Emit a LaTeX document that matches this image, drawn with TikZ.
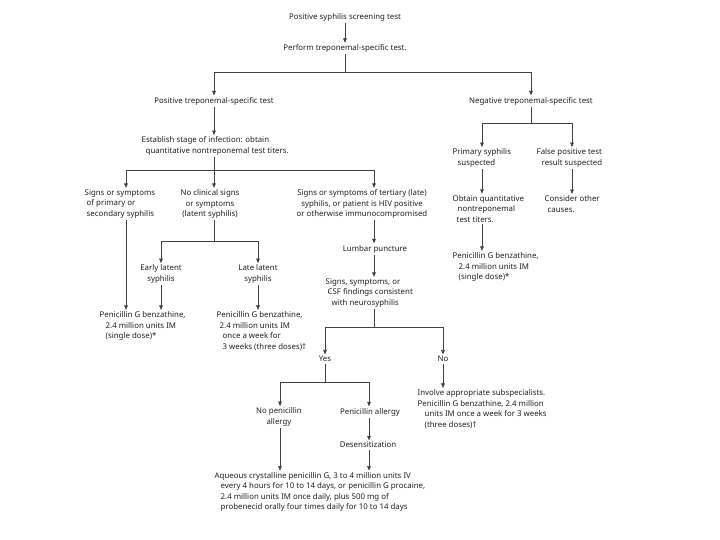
\documentclass[tikz,border=0pt]{standalone}
\usepackage{fontspec}
\setmainfont{Noto Sans}
\usetikzlibrary{arrows.meta}
\begin{document}
\begin{tikzpicture}[x=1pt,y=-1pt,
  txt/.style={inner sep=1.5pt,font=\fontsize{7.85}{10.5}\selectfont,text=black!88},
  ctxt/.style={txt,align=center,anchor=center},
  ltxt/.style={txt,align=left,anchor=west},
  conn/.style={draw=black!75,line width=0.6pt},
  arr/.style={conn,-{Triangle[length=4.5pt,width=3.6pt]}}]
\useasboundingbox (0,0) rectangle (720,540);
% nodes
\node[ctxt] (n1) at (345,17) {Positive syphilis screening test};
\node[ctxt] (n2) at (345,48.5) {Perform treponemal-specific test.};
\node[ctxt] (n3) at (214,101) {Positive treponemal-specific test};
\node[ctxt] (n4) at (531,101) {Negative treponemal-specific test};
\node[ltxt] (n5) at (140,146) {Establish stage of infection: obtain\\\hspace*{4pt}quantitative nontreponemal test titers.};
\node[ltxt] (n6) at (83,204) {Signs or symptoms\\\hspace*{2pt}of primary or\\\hspace*{2pt}secondary syphilis};
\node[ctxt] (n7) at (210,204) {No clinical signs\\or symptoms\\(latent syphilis)};
\node[ctxt] (n8) at (362,204) {Signs or symptoms of tertiary (late)\\syphilis, or patient is HIV positive\\or otherwise immunocompromised};
\node[ltxt] (n9) at (451,158) {Primary syphilis\\\hspace*{5pt}suspected};
\node[ltxt] (n10) at (535,158) {False positive test\\\hspace*{5pt}result suspected};
\node[ltxt] (n11) at (451,209) {Obtain quantitative\\\hspace*{5pt}nontreponemal\\\hspace*{4pt}test titers.};
\node[ltxt] (n12) at (543,204) {Consider other\\\hspace*{3pt}causes.};
\node[ltxt] (n13) at (451,267) {Penicillin G benzathine,\\\hspace*{6pt}2.4 million units IM\\\hspace*{6pt}(single dose)*};
\node[ctxt] (n14) at (375,249) {Lumbar puncture};
\node[ltxt] (n15) at (324,293) {Signs, symptoms, or\\\hspace*{2pt}CSF findings consistent\\\hspace*{6pt}with neurosyphilis};
\node[ltxt] (n16) at (98,326) {Penicillin G benzathine,\\\hspace*{6pt}2.4 million units IM\\\hspace*{6pt}(single dose)*};
\node[ctxt] (n17) at (161,274) {Early latent\\syphilis};
\node[ctxt] (n18) at (258,274) {Late latent\\syphilis};
\node[ltxt] (n19) at (215,331) {Penicillin G benzathine,\\\hspace*{3pt}2.4 million units IM\\\hspace*{6pt}once a week for\\\hspace*{6pt}3 weeks (three doses)\textdagger};
\node[ctxt] (n20) at (325,359) {Yes};
\node[ctxt] (n21) at (443,359) {No};
\node[ctxt] (n22) at (279,417) {No penicillin\\allergy};
\node[ctxt] (n23) at (370,412) {Penicillin allergy};
\node[ctxt] (n24) at (368,445) {Desensitization};
\node[ltxt] (n25) at (416,409) {Involve appropriate subspecialists.\\Penicillin G benzathine, 2.4 million\\\hspace*{7pt}units IM once a week for 3 weeks\\\hspace*{7pt}(three doses)\textdagger};
\node[ltxt] (n26) at (213,492) {Aqueous crystalline penicillin G, 3 to 4 million units IV\\\hspace*{6pt}every 4 hours for 10 to 14 days, or penicillin G procaine,\\\hspace*{6pt}2.4 million units IM once daily, plus 500 mg of\\\hspace*{6pt}probenecid orally four times daily for 10 to 14 days};
% column coordinates
\coordinate (c126) at (126,0);
\coordinate (c161) at (161,0);
\coordinate (c214) at (214,0);
\coordinate (c258) at (258,0);
\coordinate (c280) at (280,0);
\coordinate (c325) at (325,0);
\coordinate (c369) at (369,0);
\coordinate (c374) at (374,0);
\coordinate (c443) at (443,0);
\coordinate (c482) at (482,0);
\coordinate (c572) at (572,0);
% junctions
\coordinate (j1) at (345,72);
\coordinate (j2) at (214,170);
\coordinate (j3) at (531,123);
\coordinate (j4) at (214,241);
\coordinate (j5) at (374,327);
\coordinate (j6) at (325,382);
% connectors
\draw[arr] (n1) -- (n2);
\draw[conn] (n2.south) -- (j1);
\draw[arr] (j1) -| (n3.north);
\draw[arr] (j1) -| (n4.north);
\draw[arr] (n3.south -| c214) -- (n5.north -| c214);
\draw[conn] (n5.south -| c214) -- (j2);
\draw[arr] (j2) -| (n6.north -| c126);
\draw[arr] (j2) -- (n7.north -| c214);
\draw[arr] (j2) -| (n8.north -| c374);
\draw[conn] (n4.south) -- (j3);
\draw[arr] (j3) -| (n9.north -| c482);
\draw[arr] (j3) -| (n10.north -| c572);
\draw[arr] (n9.south -| c482) -- (n11.north -| c482);
\draw[arr] (n10.south -| c572) -- (n12.north -| c572);
\draw[arr] (n11.south -| c482) -- (n13.north -| c482);
\draw[arr] (n6.south -| c126) -- (n16.north -| c126);
\draw[conn] (n7.south -| c214) -- (j4);
\draw[arr] (j4) -| (n17.north -| c161);
\draw[arr] (j4) -| (n18.north -| c258);
\draw[arr] (n17.south -| c161) -- (n16.north -| c161);
\draw[arr] (n18.south -| c258) -- (n19.north -| c258);
\draw[arr] (n8.south -| c374) -- (n14.north -| c374);
\draw[arr] (n14.south -| c374) -- (n15.north -| c374);
\draw[conn] (n15.south -| c374) -- (j5);
\draw[arr] (j5) -| (n20.north -| c325);
\draw[arr] (j5) -| (n21.north -| c443);
\draw[conn] (n20.south -| c325) -- (j6);
\draw[arr] (j6) -| (n22.north -| c280);
\draw[arr] (j6) -| (n23.north -| c369);
\draw[arr] (n23.south -| c369) -- (n24.north -| c369);
\draw[arr] (n24.south -| c369) -- (n26.north -| c369);
\draw[arr] (n22.south -| c280) -- (n26.north -| c280);
\draw[arr] (n21.south -| c443) -- (n25.north -| c443);
\end{tikzpicture}
\end{document}
